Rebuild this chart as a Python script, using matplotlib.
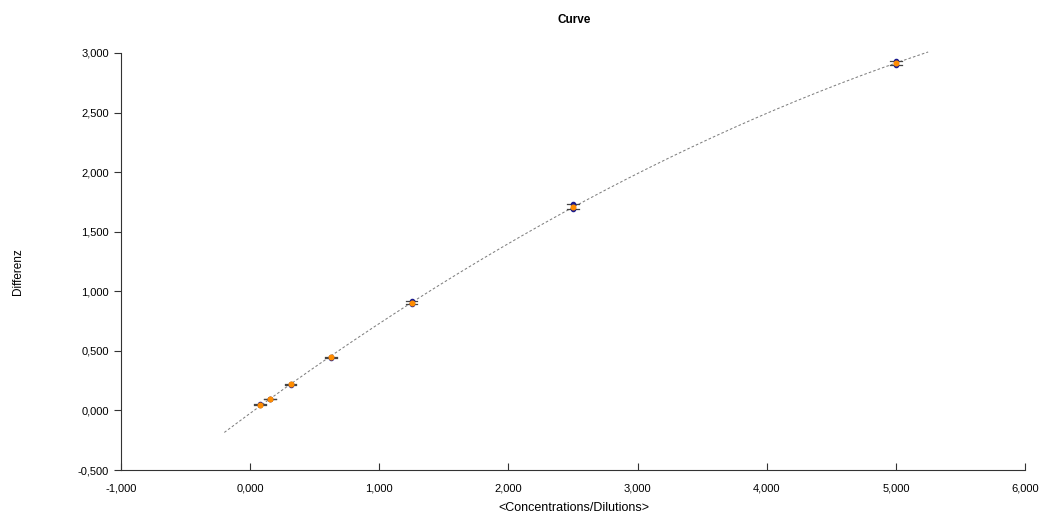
import numpy as np
import matplotlib.pyplot as plt
from matplotlib.ticker import FuncFormatter

plt.rcParams['font.family'] = ['Liberation Sans', 'DejaVu Sans']

# concentrations and replicate readings
conc = [0.078, 0.156, 0.3125, 0.625, 1.25, 2.5, 5.0]
rep1 = [0.050, 0.100, 0.222, 0.452, 0.918, 1.730, 2.930]
rep2 = [0.044, 0.094, 0.216, 0.444, 0.892, 1.688, 2.900]
mean = [0.047, 0.097, 0.219, 0.448, 0.905, 1.709, 2.915]

fit_x_range = (-0.2, 5.25)

fig = plt.figure(figsize=(10.39, 5.14), dpi=100)
ax = fig.add_axes([121 / 1039, 1 - 470 / 514, (1025 - 121) / 1039, (470 - 53) / 514])

# fitted curve through the means
coef = np.polyfit(conc, mean, 2)
xs = np.linspace(*fit_x_range, 200)
ax.plot(xs, np.polyval(coef, xs), ls=(0, (2.5, 2)), color='#808080', lw=0.75, zorder=1,
        clip_on=False)

for x, a, b, m in zip(conc, rep1, rep2, mean):
    lo, hi = min(a, b), max(a, b)
    ax.plot([x, x], [lo, hi], color='#1a1a8c', lw=1, zorder=2)
    ax.plot([x - 0.045, x + 0.045], [lo, lo], color='#444444', lw=0.9, zorder=2)
    ax.plot([x - 0.045, x + 0.045], [hi, hi], color='#444444', lw=0.9, zorder=2)
ax.scatter(conc, rep1, s=9, color='#1a1a8c', zorder=3)
ax.scatter(conc, rep2, s=9, color='#1a1a8c', zorder=3)
ax.scatter(conc, mean, s=11, color='#ff8c00', zorder=4)

ax.set_xlim(-1, 6)
ax.set_ylim(-0.5, 3.0)
ax.set_xticks(np.arange(-1, 7, 1))
ax.set_yticks(np.arange(-0.5, 3.01, 0.5))
fmt = FuncFormatter(lambda v, p: f'{v:.3f}'.replace('.', ','))
ax.xaxis.set_major_formatter(fmt)
ax.yaxis.set_major_formatter(fmt)
ax.tick_params(labelsize=8, length=5, color='#333333')
ax.tick_params(axis='x', direction='in', pad=10)
ax.tick_params(axis='y', direction='out')
for s in ['top', 'right']:
    ax.spines[s].set_visible(False)
for s in ['left', 'bottom']:
    ax.spines[s].set_color('#333333')

fig.text(574 / 1039, 1 - 20 / 514, 'Curve', ha='center', va='center', fontsize=8.5, fontweight='bold')
fig.text(18 / 1039, 1 - 272 / 514, 'Differenz', ha='center', va='center', rotation=90, fontsize=8.5)
fig.text(574 / 1039, 1 - 508 / 514, '<Concentrations/Dilutions>', ha='center', va='center', fontsize=9)

fig.savefig('out.png', dpi=100)
